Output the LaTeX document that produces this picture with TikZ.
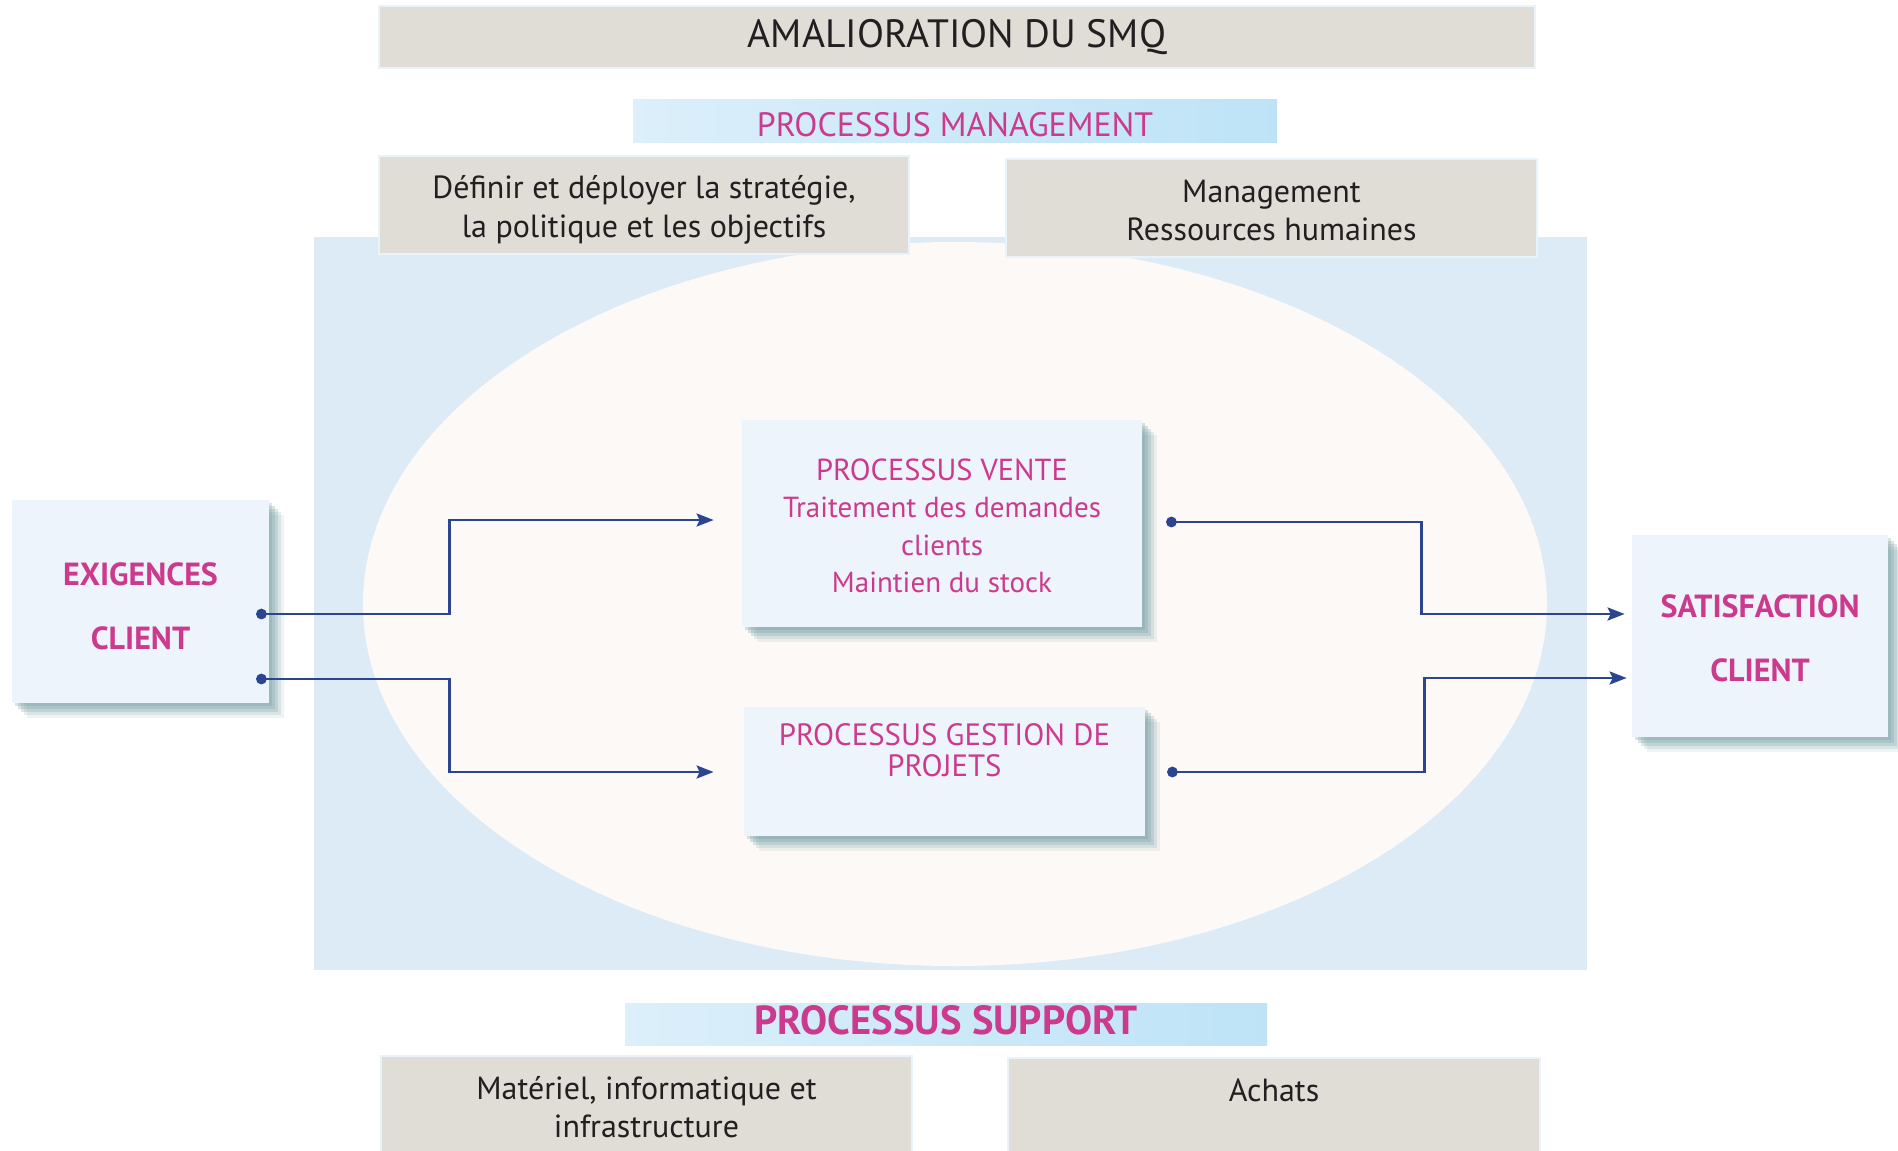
\documentclass[tikz,border=0pt]{standalone}
\usepackage{fontspec}
\setmainfont{PT Sans}
\usepackage{tikz}
\usetikzlibrary{arrows.meta,calc,positioning,shadows}
\definecolor{smqgray}{HTML}{E0DDD7}
\definecolor{smqedge}{HTML}{E8F3FA}
\definecolor{smqbg}{HTML}{DCEBF6}
\definecolor{smqegg}{HTML}{FDF9F6}
\definecolor{smqbox}{HTML}{EDF4FB}
\definecolor{smqpink}{HTML}{CC3A8E}
\definecolor{smqblue}{HTML}{2B4591}
\definecolor{smqdark}{HTML}{231F20}
\definecolor{smqshadow}{HTML}{749FA4}
\definecolor{bandL}{HTML}{DCEFFA}
\definecolor{bandR}{HTML}{BEE3F7}
\newcommand{\fsz}[2]{\fontsize{#1}{#2}\selectfont}
\tikzset{
	soft shadow/.style={
		general shadow={fill=smqshadow, opacity=.28, shadow xshift=1.5pt, shadow yshift=-1.5pt},
		general shadow={fill=smqshadow, opacity=.28, shadow xshift=3pt, shadow yshift=-3pt},
		general shadow={fill=smqshadow, opacity=.25, shadow xshift=4.5pt, shadow yshift=-4.5pt},
		general shadow={fill=smqshadow, opacity=.18, shadow xshift=6pt, shadow yshift=-6pt},
		general shadow={fill=smqshadow, opacity=.12, shadow xshift=7.5pt, shadow yshift=-7.5pt}},
	graybox/.style={draw=smqedge, line width=1pt, fill=smqgray, inner sep=0pt,
		align=center, text=smqdark, font={\fsz{16}{19.5}}},
	band/.style={left color=bandL, right color=bandR, inner sep=0pt, text=smqpink, text depth=0pt},
	procbox/.style={fill=smqbox, soft shadow, inner sep=0pt, align=center,
		text=smqpink, font={\fsz{14.5}{18.75}}},
	clientbox/.style={procbox, text depth=0pt, font={\bfseries\fsz{16}{32}}},
	toptext/.style={anchor=north, yshift=-#1, align=center},
	flow/.style={draw=smqblue, line width=1.35pt,
		{Circle[length=5.3pt]}-{Stealth[length=8.5pt,width=6.5pt,inset=1.5pt]}}
}

\begin{document}
\begin{tikzpicture}[x=0.5pt,y=-0.5pt]
	\useasboundingbox (0,0) rectangle (1898,1150);
	\fill[smqbg] (314,237) rectangle (1587,970);
	\fill[smqegg] (955,604) ellipse [x radius=592, y radius=362];

	\node[graybox, minimum width=578pt, minimum height=31pt, font={\fsz{19.75}{23}}] (smq) at (957,37) {AMALIORATION DU SMQ};
	\node[band, minimum width=322pt, minimum height=21.5pt, text height=14.8pt, font={\fsz{16.9}{19}}] (mgmt) at (955,121.5) {PROCESSUS MANAGEMENT};
	\node[graybox, minimum width=265pt, minimum height=49pt,
		label={[toptext=6.8pt, text=smqdark, font={\fsz{16}{19.5}}]north:{Définir et déployer la stratégie,\\la politique et les objectifs}}] (strat) at (644,205) {};
	\node[graybox, minimum width=265.5pt, minimum height=49pt,
		label={[toptext=7.5pt, text=smqdark, font={\fsz{16}{19}}]north:{Management\\Ressources humaines}}] (rh) at (1271.5,208) {};

	\node[clientbox, minimum width=128.5pt, minimum height=101.5pt, text height=47.5pt] (exig) at (140.5,601.5) {EXIGENCES\\CLIENT};
	\node[procbox, minimum width=200pt, minimum height=103.5pt, text height=69.1pt, text depth=0pt] (vente) at (942,523.5)
		{{\fsz{15.2}{18.75}PROCESSUS VENTE}\\Traitement des demandes\\clients\\Maintien du stock};
	\node[procbox, minimum width=200.5pt, minimum height=64.5pt,
		label={[toptext=5pt, text=smqpink, font={\fsz{15.4}{15.5}}]north:{PROCESSUS GESTION DE\\PROJETS}}] (gestion) at (944.5,771.5) {};
	\node[clientbox, minimum width=128pt, minimum height=101pt, text height=45.8pt] (sat) at (1760,636) {SATISFACTION\\CLIENT};

	\node[band, minimum width=321pt, minimum height=21pt, text height=10.6pt, font={\bfseries\fsz{20.3}{22}}] (support) at (946,1024) {PROCESSUS SUPPORT};
	\node[graybox, minimum width=265.5pt, minimum height=57pt,
		label={[toptext=7.2pt, text=smqdark, font={\fsz{16}{19}}]north:{Matériel, informatique et\\infrastructure}}] (mat) at (646.5,1113) {};
	\node[graybox, minimum width=266pt, minimum height=56pt,
		label={[toptext=7.5pt, text=smqdark, font={\fsz{16}{19}}]north:Achats}] (achats) at (1274,1114) {};

	\draw[flow] ($(exig.east)+(-13.3,12.5)$) -- ++(193.3,0) |- ($(vente.west)+(-28,-3.5)$);
	\draw[flow] ($(exig.east)+(-13.3,77.5)$) -- ++(193.3,0) |- ($(gestion.west)+(-30,0.5)$);
	\draw[flow] ($(vente.east)+(23.7,-1.5)$) -- ++(255.3,0) |- ($(sat.west)+(-7,-22)$);
	\draw[flow] ($(gestion.east)+(21.7,0.5)$) -- ++(257.3,0) |- ($(sat.west)+(-5,42)$);
\end{tikzpicture}
\end{document}
